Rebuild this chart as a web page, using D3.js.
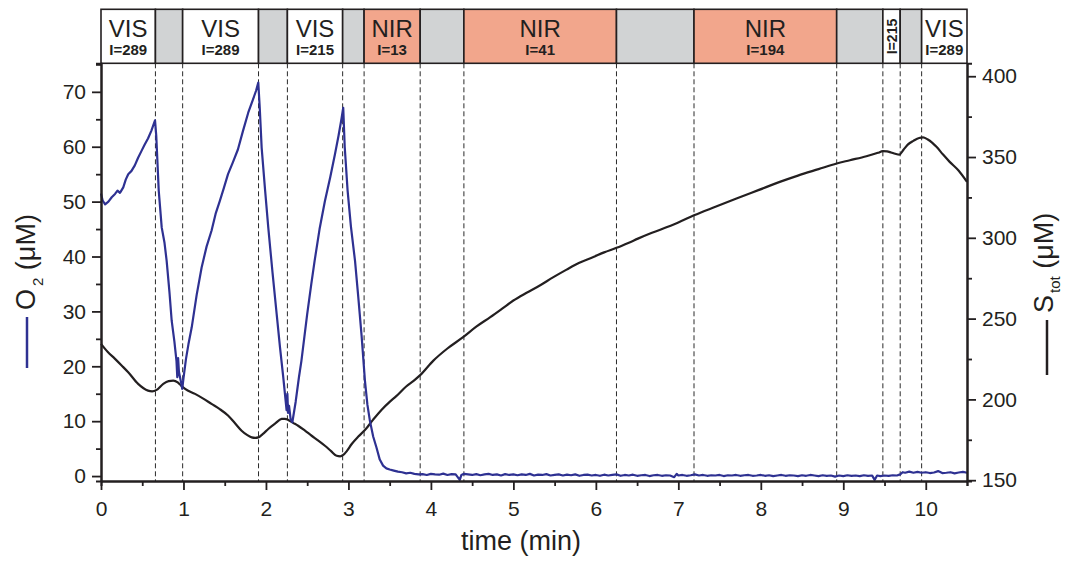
<!DOCTYPE html>
<html>
<head>
<meta charset="utf-8">
<script src="https://cdn.jsdelivr.net/npm/d3@7/dist/d3.min.js"></script>
<style>
  html, body { margin: 0; padding: 0; background: #fff; }
  svg { display: block; }
  text { font-family: "Liberation Sans", Arial, Helvetica, sans-serif; fill: #231f20; }
</style>
</head>
<body>
<svg id="chart" width="1070" height="561"></svg>
<script>
// Illumination protocol: boundaries (min), kind of light and intensity
const lightChanges = [0, 0.66, 0.99, 1.91, 2.26, 2.93, 3.19, 3.87, 4.40, 6.25, 7.19, 8.92, 9.48, 9.69, 9.95, 10.5];
const lightKind = ["VIS", "dark", "VIS", "dark", "VIS", "dark", "NIR", "dark", "NIR", "dark", "NIR", "dark", "VIS", "dark", "VIS"];
const lightIntensity = [289, null, 289, null, 215, null, 13, null, 41, null, 194, null, 215, null, 289];

// Dissolved oxygen, [time (min), O2 (µM)]
const o2Series = [
  [0.00, 51.5], [0.02, 50.2], [0.05, 49.5], [0.09, 50.0], [0.13, 50.8], [0.17, 51.4], [0.20, 52.0], [0.23, 51.6],
  [0.27, 52.6], [0.30, 54.0], [0.33, 55.0], [0.37, 55.6], [0.41, 56.6], [0.45, 58.0], [0.49, 59.2], [0.53, 60.4],
  [0.57, 61.5], [0.61, 62.9], [0.655, 64.8],
  [0.67, 62.0], [0.70, 52.0], [0.736, 45.3], [0.77, 42.5], [0.796, 39.2], [0.83, 33.5], [0.857, 28.3], [0.89, 24.5],
  [0.915, 21.0], [0.925, 18.0], [0.935, 21.5], [0.945, 19.0], [0.958, 18.0], [0.972, 17.0], [0.985, 15.9],
  [1.00, 17.8], [1.03, 21.3], [1.06, 24.0], [1.10, 27.1], [1.16, 33.0], [1.22, 38.0], [1.28, 41.8], [1.34, 44.7],
  [1.39, 47.8], [1.44, 50.1], [1.49, 52.5], [1.54, 55.0], [1.60, 57.2], [1.66, 59.5], [1.72, 62.8], [1.785, 66.2],
  [1.84, 68.5], [1.88, 70.2], [1.907, 71.7],
  [1.925, 67.0], [1.948, 59.8], [1.99, 52.0], [2.028, 45.3], [2.08, 37.0], [2.13, 29.5], [2.17, 23.5], [2.21, 18.0],
  [2.24, 13.5], [2.25, 12.0], [2.26, 15.0], [2.268, 11.5], [2.28, 12.8], [2.30, 10.3], [2.32, 9.8],
  [2.36, 13.5], [2.40, 18.0], [2.43, 21.0], [2.50, 29.5], [2.55, 35.0], [2.59, 39.2], [2.65, 45.0], [2.715, 50.1],
  [2.78, 54.5], [2.836, 58.6], [2.88, 62.0], [2.915, 65.0], [2.937, 67.1],
  [2.955, 60.0], [2.99, 52.0], [3.03, 45.5], [3.08, 39.2], [3.12, 32.5], [3.16, 25.5], [3.20, 17.4], [3.23, 13.0],
  [3.26, 10.1], [3.30, 7.2], [3.34, 5.2], [3.38, 3.0], [3.42, 1.9], [3.46, 1.4], [3.50, 1.2], [3.55, 1.0],
  [3.60, 0.8], [3.65, 0.7], [3.70, 0.5], [3.75, 0.6], [3.80, 0.4], [3.85, 0.3], [3.90, 0.35], [3.95, 0.2],
  [4.00, 0.4], [4.05, 0.3], [4.10, 0.25], [4.15, 0.45], [4.20, 0.2], [4.25, 0.35], [4.30, 0.3], [4.35, -0.7],
  [4.37, 0.2], [4.40, 0.4], [4.45, 0.3], [4.50, 0.2], [4.55, 0.35], [4.60, 0.15], [4.65, 0.3], [4.70, 0.4],
  [4.75, 0.2], [4.80, 0.3], [4.85, 0.1], [4.90, 0.35], [4.95, 0.2], [5.00, 0.3], [5.05, 0.15], [5.10, 0.3],
  [5.15, 0.2], [5.20, 0.4], [5.25, 0.1], [5.30, 0.25], [5.35, 0.2], [5.40, 0.35], [5.45, 0.1], [5.50, 0.2],
  [5.55, 0.3], [5.60, 0.1], [5.65, 0.25], [5.70, 0.15], [5.75, 0.3], [5.80, 0.05], [5.85, 0.2], [5.90, 0.25],
  [5.95, 0.1], [6.00, 0.2], [6.05, 0.05], [6.10, 0.25], [6.15, 0.1], [6.20, 0.2], [6.25, 0.3], [6.30, 0.05],
  [6.35, 0.2], [6.40, 0.1], [6.45, 0.25], [6.50, 0.05], [6.55, 0.15], [6.60, 0.2], [6.65, 0.0], [6.70, 0.15],
  [6.75, 0.2], [6.80, 0.05], [6.85, 0.15], [6.90, 0.1], [6.95, -0.2], [6.98, 0.4], [7.00, 0.1], [7.05, 0.2],
  [7.10, 0.05], [7.15, 0.15], [7.20, 0.3], [7.25, 0.1], [7.30, 0.2], [7.35, 0.05], [7.40, 0.15], [7.45, 0.1],
  [7.50, 0.2], [7.55, 0.0], [7.60, 0.15], [7.65, 0.1], [7.70, 0.2], [7.75, 0.05], [7.80, 0.15], [7.85, 0.2],
  [7.90, 0.05], [7.95, 0.1], [8.00, 0.2], [8.05, 0.05], [8.10, 0.15], [8.15, 0.0], [8.20, 0.1], [8.25, 0.2],
  [8.30, 0.05], [8.35, 0.15], [8.40, 0.1], [8.45, 0.0], [8.50, 0.15], [8.55, 0.05], [8.60, 0.2], [8.65, 0.1],
  [8.70, 0.0], [8.75, 0.15], [8.80, 0.05], [8.85, 0.1], [8.90, -0.1], [8.95, 0.1], [9.00, 0.0], [9.05, 0.15],
  [9.10, 0.05], [9.15, 0.1], [9.20, 0.0], [9.25, 0.15], [9.30, 0.05], [9.35, 0.1], [9.38, -0.7], [9.41, 0.1],
  [9.45, 0.0], [9.50, 0.1], [9.55, 0.05], [9.60, 0.15], [9.65, 0.1], [9.69, 0.3], [9.72, 0.7], [9.75, 0.6],
  [9.80, 0.8], [9.85, 0.6], [9.90, 0.75], [9.95, 0.6], [10.00, 0.7], [10.05, 0.55], [10.10, 0.65], [10.15, 0.9],
  [10.20, 0.55], [10.25, 0.6], [10.30, 0.7], [10.35, 0.5], [10.40, 0.65], [10.45, 0.75], [10.50, 0.6]
];

// Total sulfide, [time (min), S_tot (µM)]
const sTotSeries = [
  [0.00, 234.4], [0.08, 229.5], [0.17, 225.1], [0.25, 221.0], [0.33, 216.8], [0.45, 209.6], [0.57, 205.4], [0.62, 205.0],
  [0.675, 205.9], [0.755, 209.6], [0.82, 211.3], [0.876, 211.6], [0.93, 210.5], [0.958, 209.2], [1.02, 206.5], [1.14, 203.4],
  [1.24, 200.5], [1.34, 197.2], [1.44, 194.0], [1.54, 190.0], [1.62, 185.5], [1.705, 180.6], [1.77, 178.0], [1.827, 176.5],
  [1.87, 176.2], [1.907, 176.5], [1.96, 178.5], [2.028, 181.7], [2.11, 185.0], [2.19, 187.9], [2.23, 188.0], [2.27, 187.3],
  [2.33, 185.5], [2.39, 183.7], [2.47, 180.8], [2.554, 177.5], [2.635, 174.5], [2.715, 171.3], [2.79, 168.0], [2.857, 165.1],
  [2.90, 164.8], [2.937, 165.6], [2.98, 168.0], [3.04, 172.4], [3.12, 177.0], [3.20, 181.0], [3.30, 187.5], [3.40, 193.5],
  [3.50, 198.5], [3.58, 202.0], [3.70, 208.0], [3.79, 211.5], [3.87, 215.0], [4.03, 224.0], [4.20, 231.5], [4.39, 238.5],
  [4.55, 245.0], [4.72, 250.9], [4.86, 256.0], [5.00, 261.2], [5.16, 266.0], [5.32, 270.5], [5.48, 275.5], [5.645, 280.3],
  [5.80, 284.5], [5.97, 288.1], [6.10, 291.0], [6.25, 293.8], [6.40, 297.0], [6.51, 299.5], [6.65, 302.5], [6.78, 305.0],
  [7.00, 309.5], [7.19, 313.9], [7.45, 319.2], [7.705, 324.3], [7.97, 329.5], [8.23, 334.6], [8.45, 338.5], [8.70, 342.5],
  [8.92, 346.0], [9.08, 348.0], [9.28, 350.5], [9.42, 352.6], [9.48, 353.6], [9.53, 353.5], [9.58, 352.8], [9.63, 352.0],
  [9.68, 351.5], [9.73, 354.5], [9.785, 357.8], [9.85, 360.0], [9.92, 361.8], [9.967, 362.1], [10.02, 361.0], [10.08, 358.8],
  [10.13, 356.3], [10.21, 351.5], [10.29, 347.0], [10.40, 341.5], [10.50, 334.6]
];

// Axis ticks
const timeMajor = [0, 1, 2, 3, 4, 5, 6, 7, 8, 9, 10];
const timeMinor = [0.5, 1.5, 2.5, 3.5, 4.5, 5.5, 6.5, 7.5, 8.5, 9.5, 10.5];
const o2Major = [0, 10, 20, 30, 40, 50, 60, 70];
const o2Minor = [5, 15, 25, 35, 45, 55, 65, 75];
const sMajor = [150, 200, 250, 300, 350, 400];
const sMinor = [175, 225, 275, 325, 375];

const INK = "#231f20";
const BLUE = "#2e3192";
const NIR_FILL = "#f2a68c";
const DARK_FILL = "#d1d3d4";

const plot = { left: 101, right: 967, top: 63.3, bottom: 481 };
const bandTop = 9.3;

const svg = d3.select("#chart");

const x = d3.scaleLinear().domain([0, 10.5]).range([plot.left, plot.right]);
const yO2 = d3.scaleLinear().domain([-0.9, 75.2]).range([plot.bottom, plot.top]);
const yS = d3.scaleLinear().domain([149.5, 408]).range([plot.bottom, plot.top]);

// Light protocol strip
const band = svg.append("g");
const segs = lightKind.map((k, i) => ({ kind: k, I: lightIntensity[i], t0: lightChanges[i], t1: lightChanges[i + 1] }));
band.selectAll("rect.seg").data(segs).join("rect")
  .attr("class", "seg")
  .attr("x", d => x(d.t0)).attr("y", bandTop)
  .attr("width", d => x(d.t1) - x(d.t0)).attr("height", plot.top - bandTop)
  .attr("fill", d => d.kind === "NIR" ? NIR_FILL : d.kind === "dark" ? DARK_FILL : "#fff")
  .attr("stroke", INK).attr("stroke-width", 1.6);

const labelled = segs.filter(d => d.kind !== "dark");
labelled.forEach(d => {
  const cx = (x(d.t0) + x(d.t1)) / 2;
  const w = x(d.t1) - x(d.t0);
  if (w > 30) {
    band.append("text").attr("x", cx).attr("y", 36.7)
      .attr("text-anchor", "middle").attr("font-size", 24).text(d.kind);
    band.append("text").attr("x", cx).attr("y", 55)
      .attr("text-anchor", "middle").attr("font-size", 15).attr("font-weight", "bold").text("I=" + d.I);
  } else {
    band.append("text")
      .attr("transform", `translate(${cx + 5},36.5) rotate(-90)`)
      .attr("text-anchor", "middle").attr("font-size", 14).attr("font-weight", "bold").text("I=" + d.I);
  }
});

// Dashed markers at every light switch
svg.append("g").selectAll("line").data(lightChanges.slice(1, -1)).join("line")
  .attr("x1", d => x(d)).attr("x2", d => x(d))
  .attr("y1", plot.top).attr("y2", plot.bottom)
  .attr("stroke", "#2a2a2a").attr("stroke-width", 1).attr("stroke-dasharray", "5,3");

// Series
const lineO2 = d3.line().x(d => x(d[0])).y(d => yO2(d[1]));
const lineS = d3.line().curve(d3.curveMonotoneX).x(d => x(d[0])).y(d => yS(d[1]));

svg.append("path").datum(sTotSeries).attr("d", lineS)
  .attr("fill", "none").attr("stroke", INK).attr("stroke-width", 2.2).attr("stroke-linejoin", "round");
svg.append("path").datum(o2Series).attr("d", lineO2)
  .attr("fill", "none").attr("stroke", BLUE).attr("stroke-width", 2.2).attr("stroke-linejoin", "round");

// Axes
function styleAxis(g, labelSize) {
  g.select(".domain").attr("stroke", INK).attr("stroke-width", 2);
  g.selectAll(".tick line").attr("stroke", INK).attr("stroke-width", 1.8);
  g.selectAll(".tick text").attr("font-size", labelSize)
    .attr("font-family", '"Liberation Sans", Arial, sans-serif').attr("fill", INK);
}

const xMinorG = svg.append("g").attr("transform", `translate(0,${plot.bottom})`)
  .call(d3.axisBottom(x).tickValues(timeMinor).tickSize(5).tickFormat(""));
styleAxis(xMinorG, 0);
const xG = svg.append("g").attr("transform", `translate(0,${plot.bottom})`)
  .call(d3.axisBottom(x).tickValues(timeMajor).tickSize(9).tickSizeOuter(0).tickPadding(11).tickFormat(d3.format("d")));
styleAxis(xG, 21);

const yMinorG = svg.append("g").attr("transform", `translate(${plot.left},0)`)
  .call(d3.axisLeft(yO2).tickValues(o2Minor).tickSize(5).tickFormat(""));
styleAxis(yMinorG, 0);
const yG = svg.append("g").attr("transform", `translate(${plot.left},0)`)
  .call(d3.axisLeft(yO2).tickValues(o2Major).tickSize(9).tickSizeOuter(0).tickPadding(6).tickFormat(d3.format("d")));
styleAxis(yG, 21);

const sMinorG = svg.append("g").attr("transform", `translate(${plot.right},0)`)
  .call(d3.axisRight(yS).tickValues(sMinor).tickSize(5).tickFormat(""));
styleAxis(sMinorG, 0);
const sG = svg.append("g").attr("transform", `translate(${plot.right},0)`)
  .call(d3.axisRight(yS).tickValues(sMajor).tickSize(9).tickSizeOuter(0).tickPadding(6).tickFormat(d3.format("d")));
styleAxis(sG, 21);

// Axis titles
svg.append("text").attr("x", 521).attr("y", 550).attr("text-anchor", "middle")
  .attr("font-size", 27).text("time (min)");

// Left title with its series key
svg.append("line").attr("x1", 27).attr("x2", 27).attr("y1", 317).attr("y2", 368)
  .attr("stroke", BLUE).attr("stroke-width", 2.5);
const tL = svg.append("text").attr("transform", "translate(35,310) rotate(-90)").attr("font-size", 27);
tL.append("tspan").text("O");
tL.append("tspan").attr("dx", 3).attr("dy", 8).attr("font-size", 15).text("2");
tL.append("tspan").attr("dy", -8).text(" (μM)");

// Right title with its series key
svg.append("line").attr("x1", 1047).attr("x2", 1047).attr("y1", 320).attr("y2", 375)
  .attr("stroke", INK).attr("stroke-width", 2.5);
const tR = svg.append("text").attr("transform", "translate(1053,313) rotate(-90)").attr("font-size", 27);
tR.append("tspan").text("S");
tR.append("tspan").attr("dx", 2).attr("dy", 7).attr("font-size", 15).text("tot");
tR.append("tspan").attr("dy", -7).text(" (μM)");
</script>
</body>
</html>
